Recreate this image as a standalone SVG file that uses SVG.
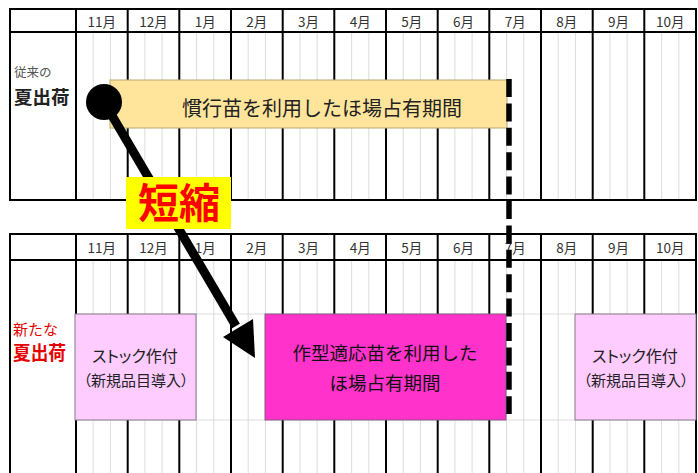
<svg xmlns="http://www.w3.org/2000/svg" width="698" height="473" viewBox="0 0 698 473">
<style>
.grid{stroke:#000;stroke-width:2;fill:none}
.sub{stroke:#dcdcdc;stroke-width:1;fill:none}
.mh{font-family:"Noto Sans CJK JP","Noto Sans",sans-serif;font-size:13.5px;fill:#333;text-anchor:middle}
.lbl{font-family:"Noto Sans CJK JP",sans-serif;text-anchor:middle}
.p{font-feature-settings:"palt"}
</style>
<rect width="698" height="473" fill="#fff"/>
<g id="top-table">
<path class="sub" d="M93.2 32V200M110.4 32V200M144.9 32V200M162.1 32V200M196.6 32V200M213.8 32V200M248.2 32V200M265.4 32V200M299.9 32V200M317.1 32V200M351.6 32V200M368.8 32V200M403.2 32V200M420.4 32V200M454.9 32V200M472.1 32V200M506.6 32V200M523.8 32V200M558.2 32V200M575.4 32V200M609.9 32V200M627.1 32V200M661.6 32V200M678.8 32V200"/>
<rect class="grid" x="10" y="9" width="686" height="191"/>
<path class="grid" d="M10 32H696M76 9V200M127.7 9V200M179.3 9V200M231 9V200M282.7 9V200M334.3 9V200M386 9V200M437.7 9V200M489.3 9V200M541 9V200M592.7 9V200M644.3 9V200"/>
<g class="mh">
<text x="101.8" y="27">11月</text><text x="153.5" y="27">12月</text><text x="205.2" y="27">1月</text><text x="256.8" y="27">2月</text><text x="308.5" y="27">3月</text><text x="360.2" y="27">4月</text><text x="411.8" y="27">5月</text><text x="463.5" y="27">6月</text><text x="515.2" y="27">7月</text><text x="566.8" y="27">8月</text><text x="618.5" y="27">9月</text><text x="670.2" y="27">10月</text>
</g>
<text x="14" y="77" font-family="Noto Sans CJK JP,sans-serif" font-size="12.5" fill="#555">従来の</text>
<text x="14" y="104" font-family="Noto Sans CJK JP,sans-serif" font-size="18.5" font-weight="bold" fill="#222">夏出荷</text>
</g>
<g id="bottom-table">
<path class="sub" d="M93.2 260V473M110.4 260V473M144.9 260V473M162.1 260V473M196.6 260V473M213.8 260V473M248.2 260V473M265.4 260V473M299.9 260V473M317.1 260V473M351.6 260V473M368.8 260V473M403.2 260V473M420.4 260V473M454.9 260V473M472.1 260V473M506.6 260V473M523.8 260V473M558.2 260V473M575.4 260V473M609.9 260V473M627.1 260V473M661.6 260V473M678.8 260V473M76 314H696M76 420H696"/>
<path class="grid" d="M10 475V234H696V475M10 260H696M76 234V475M127.7 234V475M179.3 234V475M231 234V475M282.7 234V475M334.3 234V475M386 234V475M437.7 234V475M489.3 234V475M541 234V475M592.7 234V475M644.3 234V475"/>
<g class="mh" fill="#222">
<text x="101.8" y="253">11月</text><text x="153.5" y="253">12月</text><text x="205.2" y="253">1月</text><text x="256.8" y="253">2月</text><text x="308.5" y="253">3月</text><text x="360.2" y="253">4月</text><text x="411.8" y="253">5月</text><text x="463.5" y="253">6月</text><text x="515.2" y="253">7月</text><text x="566.8" y="253">8月</text><text x="618.5" y="253">9月</text><text x="670.2" y="253">10月</text>
</g>
<text x="13" y="335" font-family="Noto Sans CJK JP,sans-serif" font-size="15" fill="#e60000">新たな</text>
<text x="13" y="360" font-family="Noto Sans CJK JP,sans-serif" font-size="19" font-weight="bold" fill="#e60000" textLength="53" lengthAdjust="spacingAndGlyphs">夏出荷</text>
</g>
<g id="node-conventional">
<rect x="110" y="80" width="397" height="48" fill="#ffe59c" stroke="#b9a878" stroke-width="1"/>
<text class="lbl" x="322" y="116" font-size="20" fill="#222">慣行苗を利用したほ場占有期間</text>
</g>
<g id="node-stock1">
<rect x="75" y="314" width="121" height="106" fill="#ffccff" stroke="#857a8a" stroke-width="1"/>
<text class="lbl p" x="135" y="362" font-size="16" fill="#222">ストック作付</text>
<text class="lbl p" x="136" y="386" font-size="15" fill="#222">（新規品目導入）</text>
</g>
<g id="node-new">
<rect x="265" y="314" width="241" height="106" fill="#ff33cc" stroke="#8a5a80" stroke-width="1"/>
<text class="lbl" x="385" y="360" font-size="18.5" fill="#111">作型適応苗を利用した</text>
<text class="lbl" x="385" y="390" font-size="18.5" fill="#111">ほ場占有期間</text>
</g>
<g id="node-stock2">
<rect x="575" y="314" width="121" height="106" fill="#ffccff" stroke="#857a8a" stroke-width="1"/>
<text class="lbl p" x="635" y="362" font-size="16" fill="#222">ストック作付</text>
<text class="lbl p" x="636" y="386" font-size="15" fill="#222">（新規品目導入）</text>
</g>
<g id="connectors">
<line x1="509" y1="79" x2="509" y2="414" stroke="#000" stroke-width="5.5" stroke-dasharray="18 6.4"/>
<circle cx="104" cy="102" r="18" fill="#000"/>
<line x1="104" y1="102" x2="236" y2="326" stroke="#000" stroke-width="9"/>
<polygon points="223,337 253,319 255,358" fill="#000"/>
</g>
<g id="node-shorten">
<rect x="126" y="177" width="105" height="52" fill="#ffff00"/>
<text class="lbl" x="179" y="218" font-size="41" font-weight="bold" fill="#ff0000">短縮</text>
</g>
</svg>
